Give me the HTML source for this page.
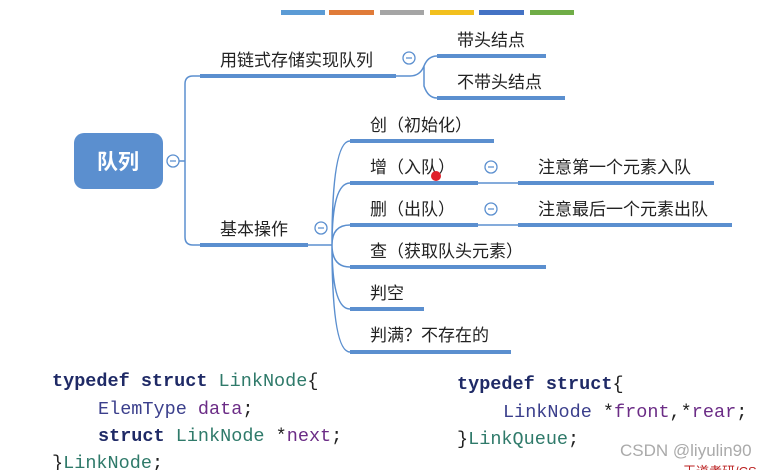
<!DOCTYPE html>
<html><head><meta charset="utf-8"><style>
html,body{margin:0;padding:0;background:#fff;width:780px;height:470px;overflow:hidden}
svg{display:block}
.t{font-family:"Liberation Sans","Noto Sans CJK SC",sans-serif;font-size:17px;fill:#222}
.c{font-family:"Liberation Mono",monospace;font-size:18.5px}
.k{fill:#1f2a66;font-weight:bold}
.n{fill:#2f7a6a}
.p{fill:#6b2c86}
.d{fill:#222}
</style></head><body>
<svg width="780" height="470" viewBox="0 0 780 470">
<g>
<rect x="281" y="10" width="44" height="5" fill="#5b9bd5"/>
<rect x="329" y="10" width="45" height="5" fill="#e07b39"/>
<rect x="380" y="10" width="44" height="5" fill="#a5a5a5"/>
<rect x="430" y="10" width="44" height="5" fill="#f2c01e"/>
<rect x="479" y="10" width="45" height="5" fill="#4472c4"/>
<rect x="530" y="10" width="44" height="5" fill="#70ad47"/>
</g>
<g fill="none" stroke="#5b8fcf" stroke-width="1.5">
<path d="M179 161 H185"/>
<path d="M200 76 H193 Q185 76 185 84 V237 Q185 245 193 245 H200"/>
<path d="M396 76 H410 Q420 76 424 66 Q428 56 437 56 M424 66 V86 Q428 98 437 98"/>
<path d="M308 245 H332 M332 245 Q332 141 350 141 M332 245 Q332 183 350 183 M332 245 Q332 225 350 225 M332 245 Q332 267 350 267 M332 245 Q332 309 350 309 M332 245 Q332 352 350 352"/>
<path d="M478 183 H518 M478 225 H518"/>
</g>
<g fill="#5b8fcf">
<rect x="74" y="133" width="89" height="56" rx="10"/>
<rect x="200" y="74" width="196" height="4"/>
<rect x="437" y="54" width="109" height="4"/>
<rect x="437" y="96" width="128" height="4"/>
<rect x="200" y="243" width="108" height="4"/>
<rect x="350" y="139" width="144" height="4"/>
<rect x="350" y="181" width="128" height="4"/>
<rect x="518" y="181" width="196" height="4"/>
<rect x="350" y="223" width="128" height="4"/>
<rect x="518" y="223" width="214" height="4"/>
<rect x="350" y="265" width="196" height="4"/>
<rect x="350" y="307" width="74" height="4"/>
<rect x="350" y="350" width="161" height="4"/>
</g>
<g fill="#fff" stroke="#5b8fcf" stroke-width="1.3">
<circle cx="173" cy="161" r="6"/>
<circle cx="409" cy="58" r="6"/>
<circle cx="321" cy="228" r="6"/>
<circle cx="491" cy="167" r="6"/>
<circle cx="491" cy="209" r="6"/>
</g>
<g stroke="#5b8fcf" stroke-width="1.3">
<path d="M170 161h6M406 58h6M318 228h6M488 167h6M488 209h6"/>
</g>
<text x="118" y="169" text-anchor="middle" font-family="Liberation Sans,Noto Sans CJK SC,sans-serif" font-size="21" font-weight="bold" fill="#fff">队列</text>
<text class="t" x="220" y="66">用链式存储实现队列</text>
<text class="t" x="457" y="46">带头结点</text>
<text class="t" x="457" y="88">不带头结点</text>
<text class="t" x="220" y="235">基本操作</text>
<text class="t" x="370" y="131">创（初始化）</text>
<text class="t" x="370" y="173">增（入队）</text>
<text class="t" x="538" y="173">注意第一个元素入队</text>
<text class="t" x="370" y="215">删（出队）</text>
<text class="t" x="538" y="215">注意最后一个元素出队</text>
<text class="t" x="370" y="257">查（获取队头元素）</text>
<text class="t" x="370" y="299">判空</text>
<text class="t" x="370" y="341">判满？不存在的</text>
<circle cx="436" cy="176" r="5" fill="#e0202a"/>
<g class="c">
<text x="52" y="386"><tspan class="k">typedef struct </tspan><tspan class="n">LinkNode</tspan><tspan class="d">{</tspan></text>
<text x="98" y="414"><tspan fill="#3b3f8c">ElemType </tspan><tspan class="p">data</tspan><tspan class="d">;</tspan></text>
<text x="98" y="441"><tspan class="k">struct </tspan><tspan class="n">LinkNode </tspan><tspan class="d">*</tspan><tspan class="p">next</tspan><tspan class="d">;</tspan></text>
<text x="52" y="468"><tspan class="d">}</tspan><tspan class="n">LinkNode</tspan><tspan class="d">;</tspan></text>
<text x="457" y="389"><tspan class="k">typedef struct</tspan><tspan class="d">{</tspan></text>
<text x="503" y="417"><tspan fill="#3b3f8c">LinkNode </tspan><tspan class="d">*</tspan><tspan class="p">front</tspan><tspan class="d">,*</tspan><tspan class="p">rear</tspan><tspan class="d">;</tspan></text>
<text x="457" y="444"><tspan class="d">}</tspan><tspan class="n">LinkQueue</tspan><tspan class="d">;</tspan></text>
</g>
<text x="620" y="456" font-family="Liberation Sans,sans-serif" font-size="17" fill="#aaa">CSDN @liyulin90</text>
<text x="683" y="476" font-family="Liberation Sans,Noto Sans CJK SC,sans-serif" font-size="13" fill="#b22">王道考研/CS</text>
</svg>
</body></html>
